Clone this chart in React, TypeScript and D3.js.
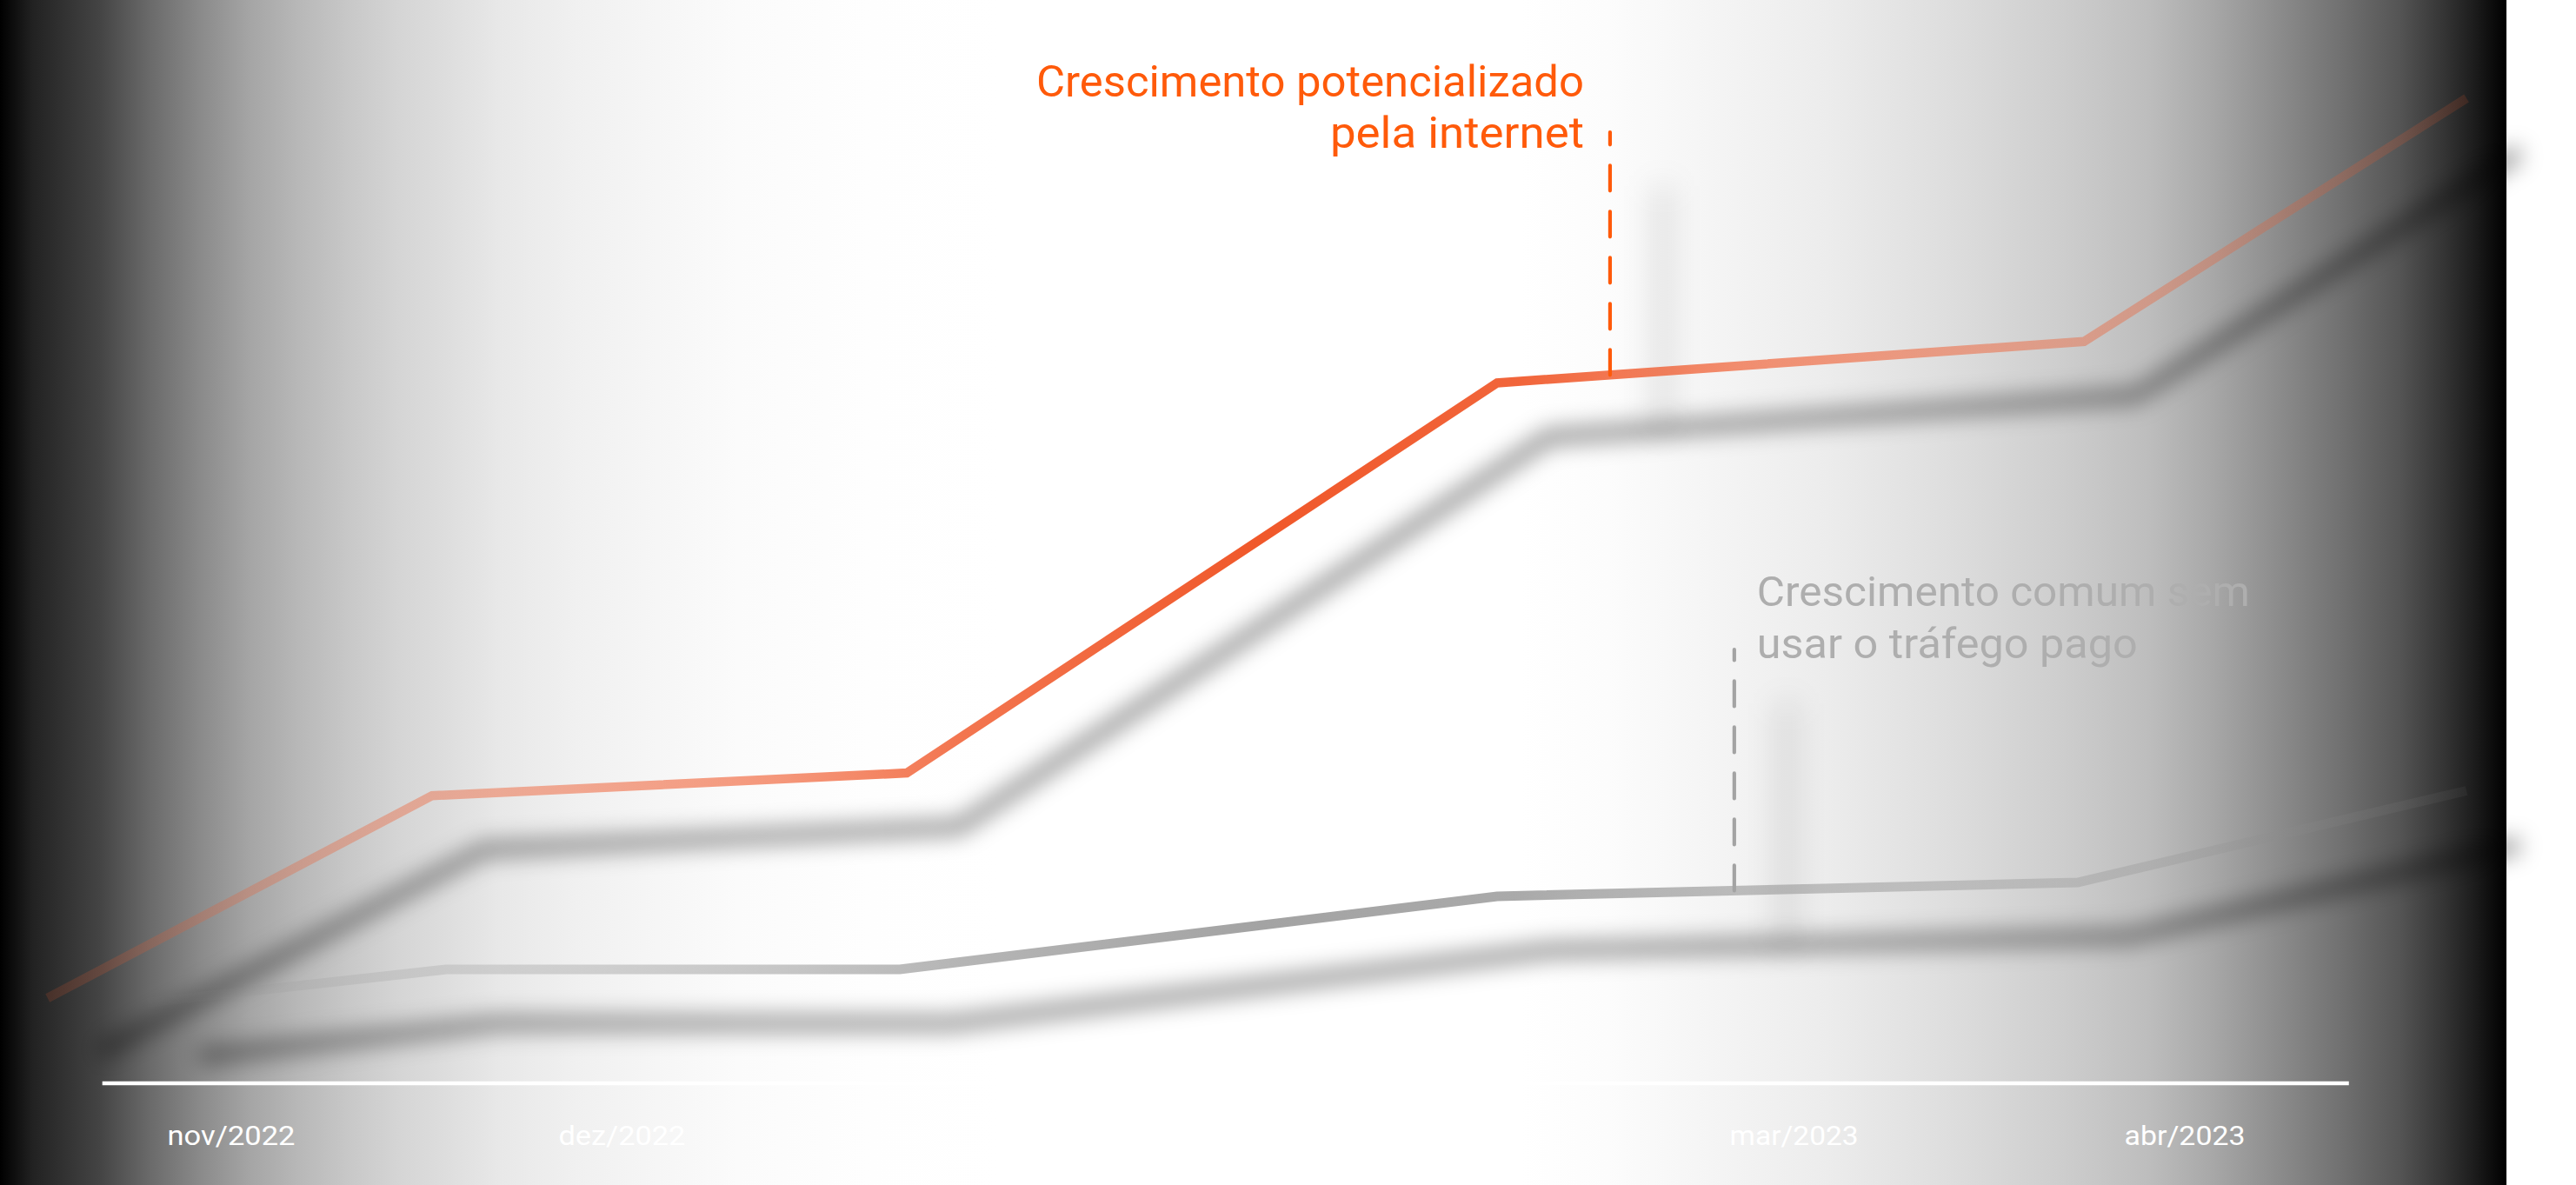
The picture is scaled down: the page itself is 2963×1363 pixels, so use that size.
import * as d3 from "d3";

// eixo: meses (índice 0 = nov/2022)
const tickLabels = ["nov/2022", "dez/2022", "mar/2023", "abr/2023"];
const tickIdx = [0, 1, 4, 5];
const tickWidths = [147, 146, 148, 139];

// série laranja: crescimento com internet
const paidX = [-0.47, 0.514, 1.729, 3.24, 4.742, 5.721];
const paidY = [8.65, 29.2, 31.5, 71.1, 75.3, 100];

// série cinza: crescimento comum
const organicX = [-0.214, 0.55, 1.711, 3.24, 4.726, 5.721];
const organicY = [8.2, 11.56, 11.56, 18.98, 20.39, 29.7];

const paidNote = ["Crescimento potencializado", "pela internet"];
const organicNote = ["Crescimento comum sem", "usar o tráfego pago"];
const noteX = [3.529, 3.847];
const noteTop = [96.56, 44.04];

const W = 2963;
const H = 1363;
const PANEL_W = 2883;
const ORANGE = "#f0582a";
const GREY = "#8c8c8c";

// fundo: preto nas bordas, branco no centro (px, nível de cinza)
const bgStops: [number, number][] = [
  [0, 0], [38, 34], [115, 68], [172, 106], [230, 138], [287, 165], [344, 184],
  [402, 200], [459, 213], [517, 222], [574, 232], [661, 240], [756, 246],
  [850, 251], [1000, 254], [1150, 255], [1750, 255], [1850, 252], [1950, 246],
  [2103, 236], [2239, 222], [2375, 205], [2472, 189], [2544, 168], [2615, 142],
  [2687, 115], [2759, 85], [2813, 51], [2849, 26], [2883, 0],
];
// opacidade das linhas ao longo de x
const orangeFade: [number, number][] = [
  [0, 0.08], [54, 0.15], [300, 0.28], [500, 0.4], [900, 0.62], [1100, 0.82],
  [1450, 1], [1750, 0.92], [2000, 0.66], [2400, 0.4], [2600, 0.28],
  [2840, 0.14], [2883, 0.1],
];
const greyFade: [number, number][] = [
  [0, 0], [170, 0.02], [300, 0.12], [500, 0.24], [900, 0.48], [1100, 0.64],
  [1450, 0.8], [1750, 0.74], [2000, 0.55], [2400, 0.32], [2600, 0.2],
  [2840, 0.08], [2883, 0.05],
];

const x = d3.scaleLinear().domain([0, 5]).range([266, 2513]);
const y = d3.scaleLinear().domain([0, 100]).range([1246, 113]);

function valueAt(xs: number[], ys: number[], v: number) {
  const i = Math.max(1, Math.min(xs.length - 1, d3.bisectRight(xs, v)));
  const t = (v - xs[i - 1]) / (xs[i] - xs[i - 1]);
  return ys[i - 1] + t * (ys[i] - ys[i - 1]);
}

const line = d3
  .line<[number, number]>()
  .x((d) => x(d[0]))
  .y((d) => y(d[1]));

const paidPath = line(paidX.map((v, i) => [v, paidY[i]]))!;
const organicPath = line(organicX.map((v, i) => [v, organicY[i]]))!;

const notes = [
  { xs: paidX, ys: paidY, color: "#ff5a0a", i: 0 },
  { xs: organicX, ys: organicY, color: "#a3a3a3", i: 1 },
].map((n) => {
  const bottom = y(valueAt(n.xs, n.ys, noteX[n.i]));
  const top = y(noteTop[n.i]);
  const px = x(noteX[n.i]);
  return { ...n, px, top, bottom, d: `M${px},${bottom}V${top}` };
});

const FONT = "Roboto, 'Open Sans', sans-serif";

function Fade({ id, color, stops }: { id: string; color: string; stops: [number, number][] }) {
  return (
    <linearGradient id={id} gradientUnits="userSpaceOnUse" x1={0} x2={PANEL_W} y1={0} y2={0}>
      {stops.map(([p, a], i) => (
        <stop key={i} offset={p / PANEL_W} stopColor={color} stopOpacity={a} />
      ))}
    </linearGradient>
  );
}

export default function App() {
  const axisX0 = x(-0.33);
  const axisX1 = x(5.42);
  const axisY = y(0);

  return (
    <svg
      width={W}
      height={H}
      style={{ position: "absolute", left: 0, top: 0, display: "block" }}
      fontFamily={FONT}
    >
      <defs>
        <linearGradient id="bg" gradientUnits="userSpaceOnUse" x1={0} x2={PANEL_W} y1={0} y2={0}>
          {bgStops.map(([p, g], i) => (
            <stop key={i} offset={p / PANEL_W} stopColor={d3.rgb(g, g, g).formatHex()} />
          ))}
        </linearGradient>
        <Fade id="fadeOrange" color={ORANGE} stops={orangeFade} />
        <Fade id="fadeGrey" color={GREY} stops={greyFade} />
        <filter id="blur" filterUnits="userSpaceOnUse" x={-200} y={-200} width={W + 400} height={H + 400}>
          <feGaussianBlur stdDeviation={13} />
        </filter>
        <filter id="blurSoft" filterUnits="userSpaceOnUse" x={-200} y={-200} width={W + 400} height={H + 400}>
          <feGaussianBlur stdDeviation={18} />
        </filter>
      </defs>

      <rect x={0} y={0} width={PANEL_W} height={H} fill="url(#bg)" />

      {/* sombras */}
      <g transform="translate(60,62)">
        <g filter="url(#blur)">
          <path d={paidPath} fill="none" stroke="#000" strokeOpacity={0.45} strokeWidth={17} />
          <path d={organicPath} fill="none" stroke="#000" strokeOpacity={0.45} strokeWidth={17} />
        </g>
        <g filter="url(#blurSoft)">
          {notes.map((n) => (
            <path key={n.i} d={n.d} fill="none" stroke="#000" strokeOpacity={0.4} strokeWidth={6} />
          ))}
        </g>
      </g>

      <path d={organicPath} fill="none" stroke="url(#fadeGrey)" strokeWidth={11} />
      <path d={paidPath} fill="none" stroke="url(#fadeOrange)" strokeWidth={10.5} />

      {notes.map((n) => (
        <path key={n.i} d={n.d} fill="none" stroke={n.color} strokeWidth={4.2}
          strokeDasharray="29 24" strokeLinecap="round" />
      ))}

      {/* textos das anotações */}
      <g fill="#ff5a0a" fontSize={50} textAnchor="end">
        <text x={notes[0].px - 30} y={notes[0].top - 41} textLength={630} lengthAdjust="spacingAndGlyphs">
          {paidNote[0]}
        </text>
        <text x={notes[0].px - 30} y={notes[0].top + 18} textLength={292} lengthAdjust="spacingAndGlyphs">
          {paidNote[1]}
        </text>
      </g>
      <g fill="#aeaeae" fontSize={49}>
        <text x={notes[1].px + 26} y={notes[1].top - 50} textLength={567} lengthAdjust="spacingAndGlyphs">
          {organicNote[0]}
        </text>
        <text x={notes[1].px + 26} y={notes[1].top + 10} textLength={438} lengthAdjust="spacingAndGlyphs">
          {organicNote[1]}
        </text>
      </g>

      {/* eixo */}
      <line x1={axisX0} x2={axisX1} y1={axisY} y2={axisY} stroke="#fff" strokeWidth={4.5} />
      <g fill="#fff" fontSize={31} textAnchor="middle">
        {tickLabels.map((t, i) => (
          <text key={t} x={x(tickIdx[i])} y={axisY + 71} textLength={tickWidths[i]} lengthAdjust="spacingAndGlyphs">
            {t}
          </text>
        ))}
      </g>
    </svg>
  );
}
